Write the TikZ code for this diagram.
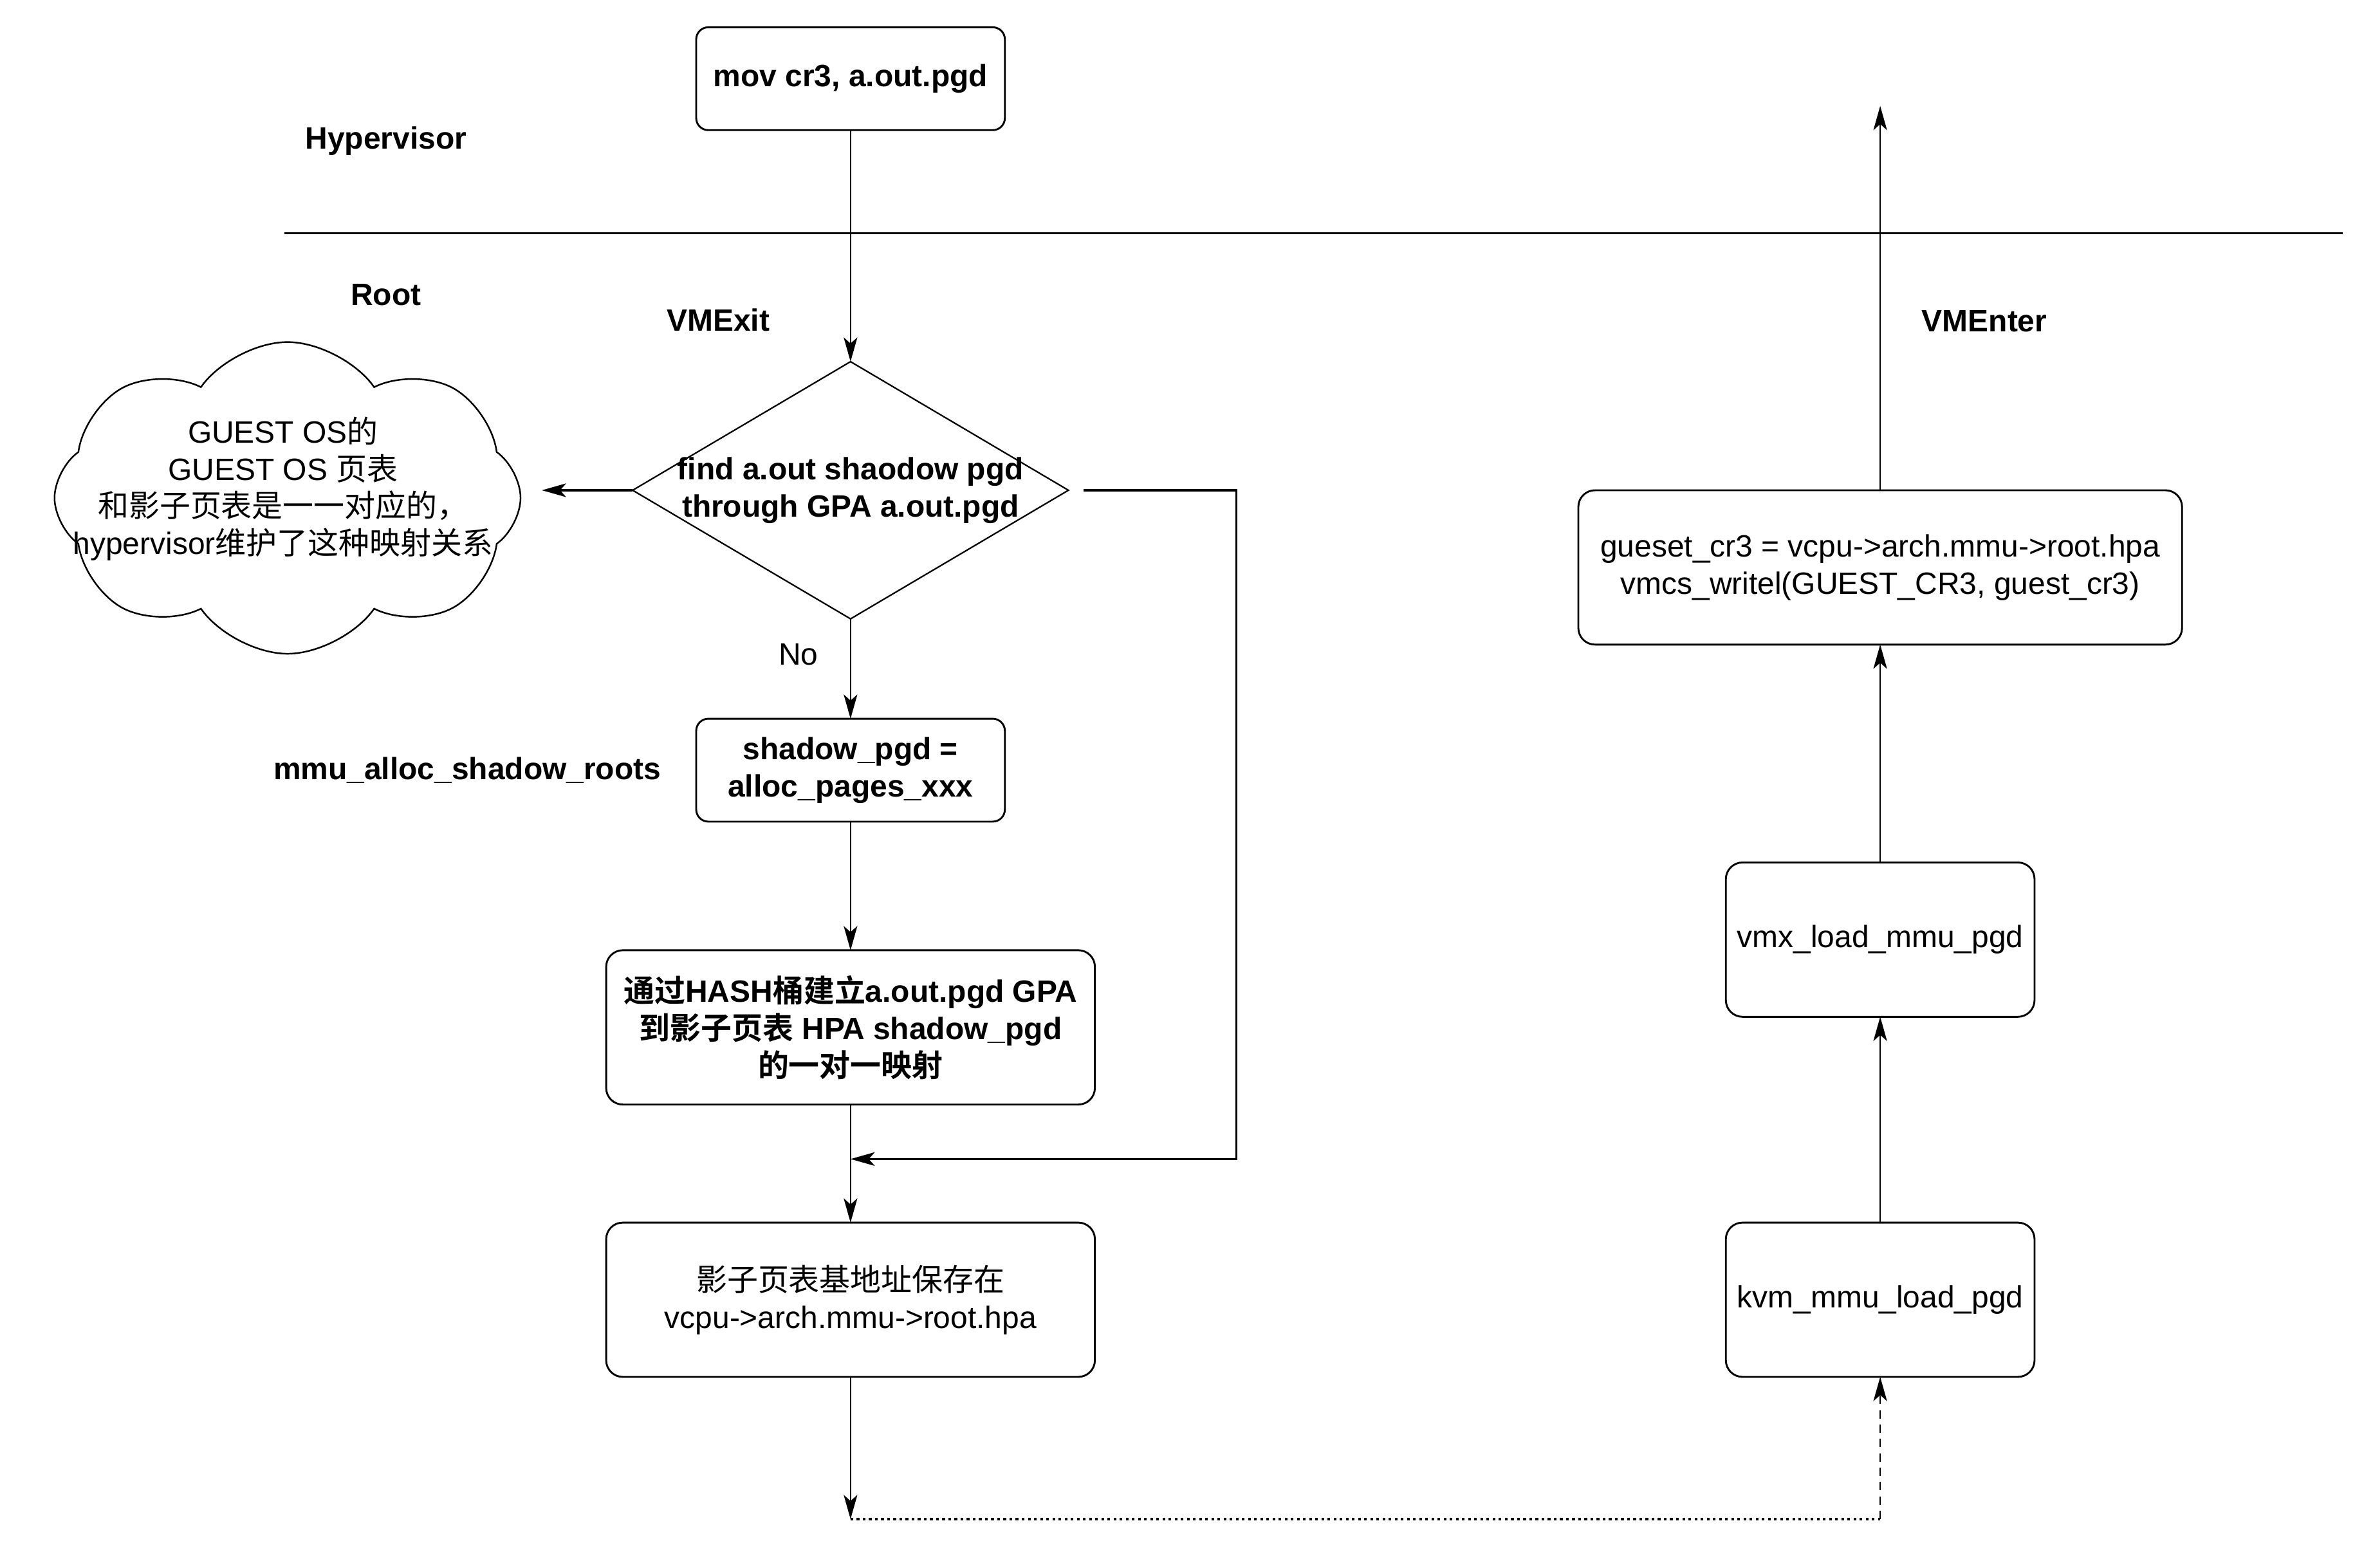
\documentclass[tikz,border=0pt]{standalone}
\usepackage{fontspec}
\setmainfont{Liberation Sans}
\newfontfamily\cjk{Noto Sans CJK SC}[BoldFont={Noto Sans CJK SC Bold}]
\usetikzlibrary{arrows.meta,positioning,shapes.geometric,shapes.symbols}
\newcommand{\flowfont}{\fontsize{11.6pt}{14pt}\selectfont}

\begin{document}
\begin{tikzpicture}[
  x=0.02cm, y=-0.02cm,
  every node/.style={font=\flowfont},
  process/.style={
    draw,
    line width=0.7pt,
    rounded corners=0.16cm,
    minimum width=4.08cm,
    minimum height=1.36cm,
    inner sep=0pt,
    outer sep=0pt,
    align=center
  },
  tallbox/.style={process, minimum height=2.04cm, rounded corners=0.22cm},
  decision/.style={diamond, draw, line width=0.55pt, minimum width=5.76cm, minimum height=3.4cm,
    inner sep=0pt, outer sep=0pt},
  note/.style={cloud, cloud puffs=8, cloud puff arc=110, aspect=1.5, draw, line width=0.6pt,
    minimum width=6.16cm, minimum height=4.12cm, inner sep=0pt},
  tag/.style={inner sep=0pt, font=\flowfont\bfseries},
  arrow/.style={-{Stealth[length=3.2mm,width=1.8mm,inset=0.8mm]}, line width=0.6pt},
  wire/.style={arrow, line width=0.75pt}
]
  \useasboundingbox (0,0) rectangle (1568,1036);

  % hypervisor / root split
  \node[tag] at (255,93) {Hypervisor};
  \node[tag] at (255,195) {Root};
  \draw[line width=0.8pt] (188,154) -- (1548,154);

  % left column: VMExit path
  \node[process, font=\flowfont\bfseries] (mov) at (562,52) {mov cr3, a.out.pgd};
  \node[decision, below=3.06cm of mov,
    label={[font=\flowfont\bfseries, align=center]center:{find a.out shaodow pgd\\through GPA a.out.pgd}}] (find) {};
  \node[note,
    label={[align=center, yshift=0.12cm, xshift=-0.06cm]center:{GUEST OS{\cjk 的}\\GUEST OS {\cjk 页表}\\{\cjk 和影子页表是一一对应的，}\\hypervisor{\cjk 维护了这种映射关系}}}] (guest) at (190,329) {};
  \coordinate[left=1.2cm of find.west] (aside);
  \node[process, font=\flowfont\bfseries, below=1.32cm of find] (alloc) {shadow\_pgd =\\alloc\_pages\_xxx};
  \node[tag, left=0.46cm of alloc] {mmu\_alloc\_shadow\_roots};
  \node[tallbox, minimum width=6.46cm, font=\flowfont\bfseries, below=1.7cm of alloc] (hash)
    {{\cjk 通过}HASH{\cjk 桶建立}a.out.pgd GPA\\{\cjk 到影子页表} HPA shadow\_pgd\\{\cjk 的一对一映射}};
  \node[tallbox, minimum width=6.46cm, below=1.56cm of hash] (save)
    {{\cjk 影子页表基地址保存在}\\vcpu->arch.mmu->root.hpa};
  \coordinate[below=0.72cm of hash] (merge);
  \coordinate[below=1.88cm of save] (join);

  % right column: VMEnter path
  \node[tallbox, right=8.34cm of save] (kvm) {kvm\_mmu\_load\_pgd};
  \node[tallbox, above=2.72cm of kvm] (vmx) {vmx\_load\_mmu\_pgd};
  \node[tallbox, minimum width=7.98cm, above=2.88cm of vmx] (cr3)
    {gueset\_cr3 = vcpu->arch.mmu->root.hpa\\vmcs\_writel(GUEST\_CR3, guest\_cr3)};
  \coordinate[above=5.08cm of cr3] (hyper);

  \draw[arrow] (mov) -- node[tag, pos=0.82, left=1.06cm] {VMExit} (find);
  \draw[wire] (find.west) -- (aside);
  \draw[arrow] (find) -- node[pos=0.36, left=0.3cm] {No} (alloc);
  \draw[arrow] (alloc) -- (hash);
  \draw[arrow] (hash) -- (save);
  \draw[wire] ([xshift=0.2cm]find.east) -- ++(2.02cm,0) |- (merge);
  \draw[arrow] (save) -- (join);
  \draw[line width=1pt, dash pattern=on 1pt off 1.3pt] (join) -- (join -| kvm.south);
  \draw[arrow, dash pattern=on 0.11cm off 0.08cm] (join -| kvm.south) -- (kvm);
  \draw[arrow] (kvm) -- (vmx);
  \draw[arrow] (vmx) -- (cr3);
  \draw[arrow] (cr3) -- node[tag, pos=0.44, right=0.54cm] {VMEnter} (hyper);
\end{tikzpicture}
\end{document}
